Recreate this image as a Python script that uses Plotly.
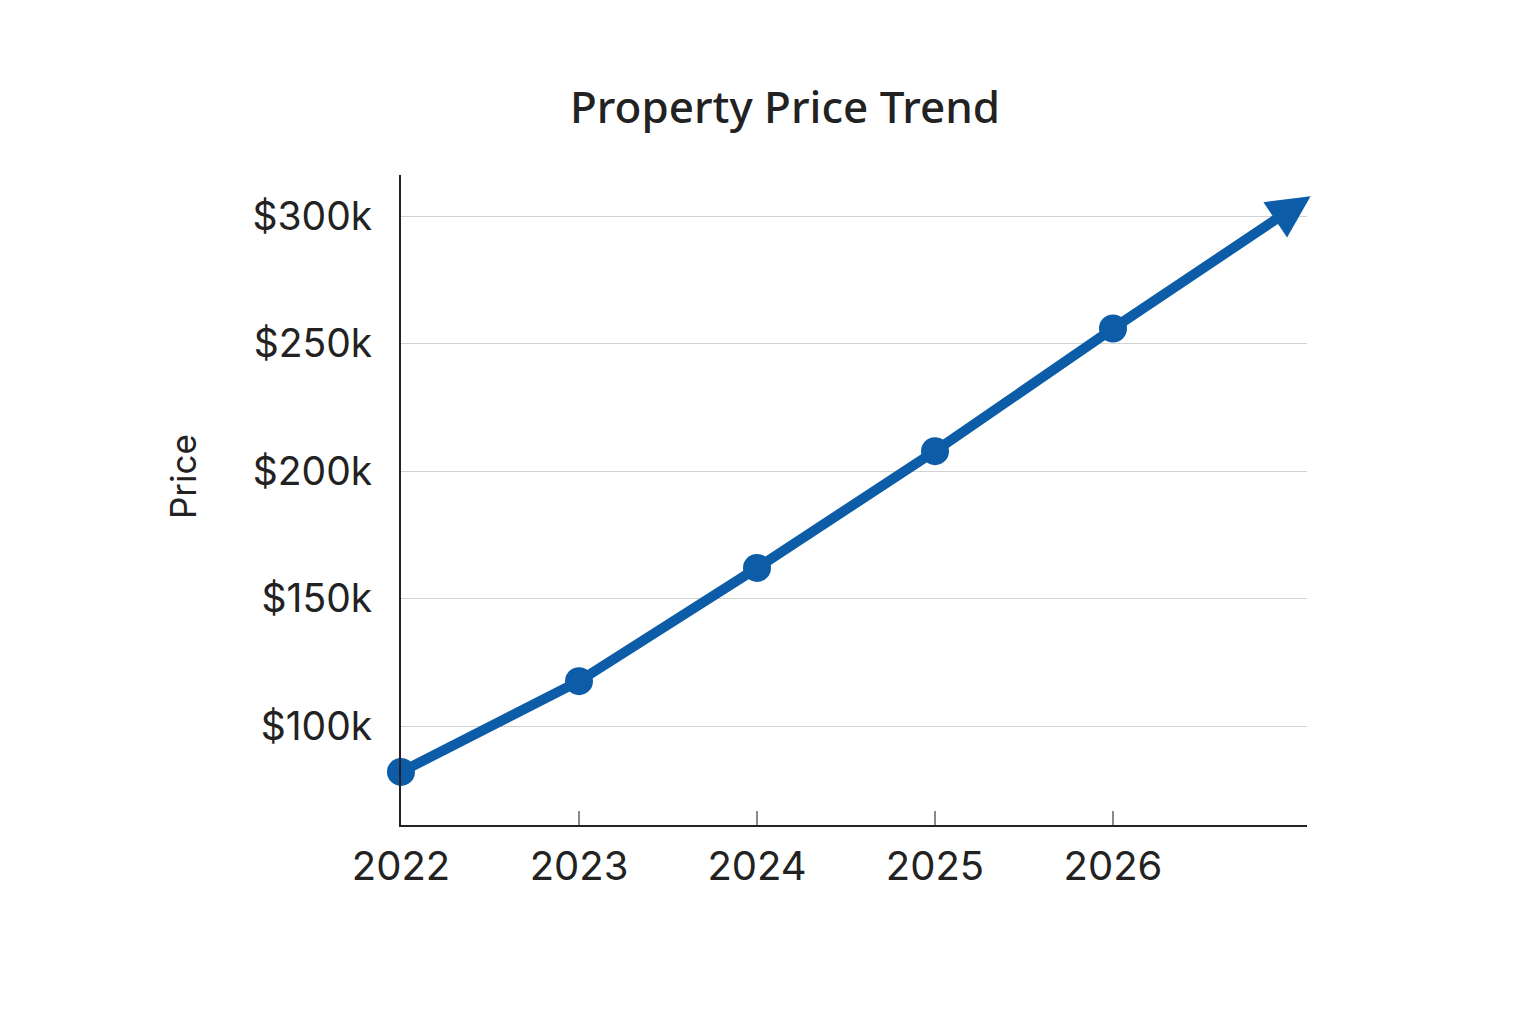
import plotly.graph_objects as go

# ---- data ----
years = [2022, 2023, 2024, 2025, 2026]
prices_k = [82, 117.6, 162, 207.8, 255.9]          # thousands of dollars
arrow_tip_year = 2027.11
arrow_tip_price_k = 307.8

ytick_vals = [100, 150, 200, 250, 300]
ytick_text = ["$100k", "$150k", "$200k", "$250k", "$300k"]
xtick_vals = [2022, 2023, 2024, 2025, 2026]
xtick_text = ["2022", "2023", "2024", "2025", "2026"]

title_text = "Property Price Trend"
y_title = "Price"

BLUE = "#0c5ca7"
TEXT = "#222222"

fig = go.Figure()
fig.add_trace(go.Scatter(
    x=years, y=prices_k, mode="lines+markers",
    line=dict(color=BLUE, width=10),
    marker=dict(color=BLUE, size=28),
    cliponaxis=False, showlegend=False, hoverinfo="skip",
))

# arrow continuing the trend
fig.add_annotation(
    x=arrow_tip_year, y=arrow_tip_price_k, xref="x", yref="y",
    ax=years[-1], ay=prices_k[-1], axref="x", ayref="y",
    text="", showarrow=True, arrowhead=2, arrowsize=0.85,
    arrowwidth=10, arrowcolor=BLUE,
)

# y-axis title
fig.add_annotation(
    x=(183 - 401) / 906, y=(825 - 477) / 650, xref="paper", yref="paper",
    text=y_title, textangle=-90, showarrow=False,
    font=dict(family="Inter, Noto Sans, sans-serif", size=35, color=TEXT),
    xanchor="center", yanchor="middle",
)

fig.update_layout(
    width=1536, height=1024,
    paper_bgcolor="white", plot_bgcolor="white",
    margin=dict(l=393, r=237, t=167, b=207),
    title=dict(
        text=title_text, x=777 / 1536, y=1 - 100 / 1024,
        xref="container", yref="container",
        xanchor="center", yanchor="middle",
        font=dict(family="Noto Sans, Open Sans, sans-serif", size=44, color=TEXT,
                  weight=500),
    ),
    xaxis=dict(
        range=[2022, 2022 + 906 / 178],
        tickvals=xtick_vals, ticktext=xtick_text,
        showgrid=False, zeroline=False,
        showline=True, linecolor=TEXT, linewidth=2,
        ticks="inside", ticklen=14, tickwidth=1.5, tickcolor="#8a8a8a",
        tickfont=dict(family="Inter, Noto Sans, sans-serif", size=40, color=TEXT),
        ticklabelstandoff=5,
    ),
    yaxis=dict(
        range=[61.2, 316.1],
        tickvals=ytick_vals, ticktext=ytick_text,
        showgrid=True, gridcolor="#d2d2d2", gridwidth=1,
        zeroline=False,
        showline=True, linecolor=TEXT, linewidth=2,
        ticks="",
        tickfont=dict(family="Inter, Noto Sans, sans-serif", size=39, color=TEXT),
        ticklabelstandoff=19,
    ),
)

fig.write_html("out.html")
